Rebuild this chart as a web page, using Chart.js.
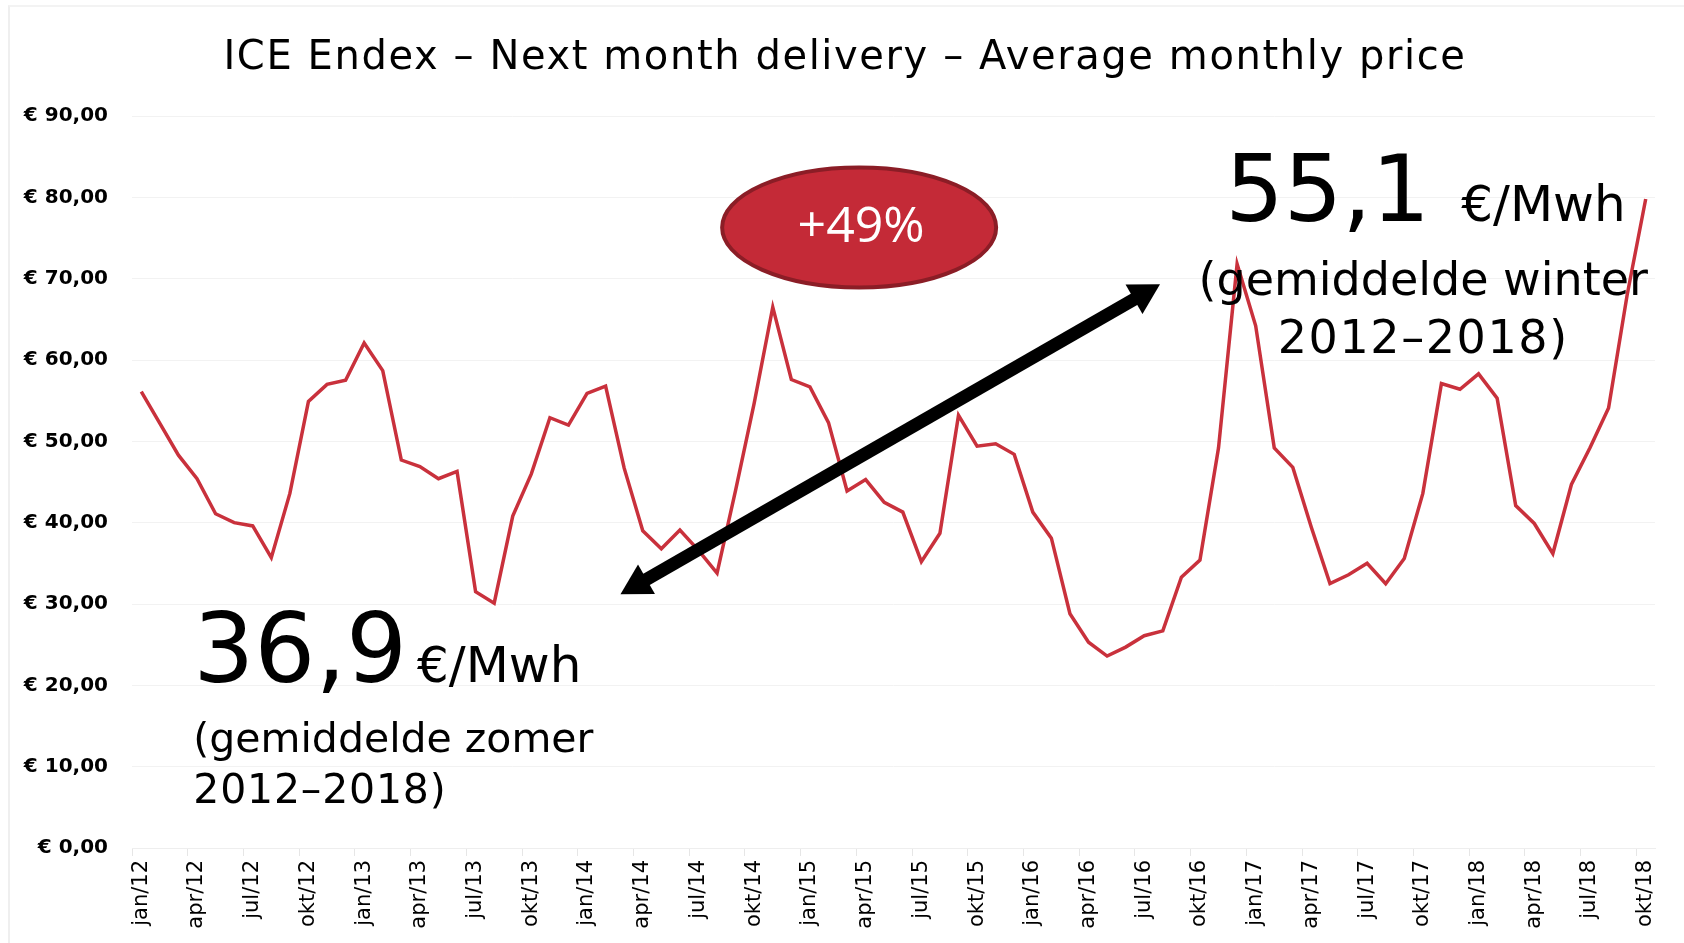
<!DOCTYPE html>
<html>
<head>
<meta charset="utf-8">
<script src="https://cdn.jsdelivr.net/npm/chart.js@4/dist/chart.umd.min.js"></script>
<style>
  html, body { margin: 0; padding: 0; background: #fff; }
  #wrap { position: relative; width: 1684px; height: 943px; }
  #frame { position: absolute; left: 8px; top: 5px; right: 0; bottom: 0;
           border-left: 2px solid #efefef; border-top: 2px solid #f3f3f3; }
  canvas { position: absolute; left: 0; top: 0; }
</style>
</head>
<body>
<div id="wrap">
  <div id="frame"></div>
  <canvas id="chart" width="1684" height="943"></canvas>
</div>
<script>
// maanden en jaren voor de categorie-as (jan/12 t/m okt/18)
const months = ["jan", "feb", "mrt", "apr", "mei", "jun", "jul", "aug", "sep", "okt", "nov", "dec"];
const years = ["12", "13", "14", "15", "16", "17", "18"];
const lastMonthCount = 10; // 2018 loopt tot okt

// gemiddelde maandprijs (EUR/MWh)
const prices = [
  56.1, 52.2, 48.3, 45.4, 41.1, 40.0, 39.6, 35.7, 43.6, 54.9, 57.0, 57.5,
  62.1, 58.7, 47.7, 46.9, 45.4, 46.3, 31.5, 30.1, 40.8, 46.0, 52.9, 52.0,
  55.9, 56.8, 46.7, 39.0, 36.8, 39.1, 36.6, 33.8, 44.0, 54.7, 66.5, 57.6,
  56.7, 52.3, 43.9, 45.3, 42.5, 41.3, 35.2, 38.7, 53.2, 49.4, 49.7, 48.4,
  41.3, 38.1, 28.8, 25.3, 23.6, 24.7, 26.1, 26.7, 33.3, 35.4, 49.2, 71.8,
  64.2, 49.2, 46.8, 39.4, 32.5, 33.6, 35.0, 32.5, 35.6, 43.6, 57.1, 56.4,
  58.3, 55.3, 42.1, 39.9, 36.2, 44.7, 49.2, 54.1, 68.0, 79.8
];

const yMin = 0;
const yMax = 90;
const yStep = 10;
const labelEvery = 3;

const labels = [];
years.forEach((yr, yi) => {
  const count = yi === years.length - 1 ? lastMonthCount : 12;
  for (let m = 0; m < count; m++) labels.push(months[m] + "/" + yr);
});

const titleText = "ICE Endex – Next month delivery – Average monthly price";

// annotaties (in data-coördinaten: x = maandindex, y = prijs)
const summerAvg = "36,9";
const winterAvg = "55,1";
const unitText = "€/Mwh";
const summerLines = ["(gemiddelde zomer", "2012–2018)"];
const winterLines = ["(gemiddelde winter", "2012–2018)"];
const changeText = "+49%";

const annotationPlugin = {
  id: "annotations",
  afterDatasetsDraw(chart) {
    const ctx = chart.ctx;
    const xs = chart.scales.x;
    const ys = chart.scales.y;
    const px = (v) => xs.getPixelForValue(v);
    const py = (v) => ys.getPixelForValue(v);

    ctx.save();

    // titel (met wat letterafstand, zoals in het origineel)
    ctx.fillStyle = "#000";
    ctx.font = "40px 'DejaVu Sans'";
    ctx.textAlign = "center";
    ctx.textBaseline = "alphabetic";
    ctx.letterSpacing = "1.6px";
    ctx.fillText(titleText, chart.width / 2 + 3, 69);
    ctx.letterSpacing = "0px";

    // dubbele pijl
    const x1 = px(25.8), y1 = py(31.2);
    const x2 = px(54.85), y2 = py(69.3);
    const ang = Math.atan2(y2 - y1, x2 - x1);
    const headLen = 30, headW = 17;
    ctx.strokeStyle = "#000";
    ctx.fillStyle = "#000";
    ctx.lineWidth = 13;
    ctx.beginPath();
    ctx.moveTo(x1 + Math.cos(ang) * headLen * 0.8, y1 + Math.sin(ang) * headLen * 0.8);
    ctx.lineTo(x2 - Math.cos(ang) * headLen * 0.8, y2 - Math.sin(ang) * headLen * 0.8);
    ctx.stroke();
    [[x2, y2, ang], [x1, y1, ang + Math.PI]].forEach(([hx, hy, a]) => {
      ctx.beginPath();
      ctx.moveTo(hx, hy);
      ctx.lineTo(hx - Math.cos(a) * headLen - Math.sin(a) * headW,
                 hy - Math.sin(a) * headLen + Math.cos(a) * headW);
      ctx.lineTo(hx - Math.cos(a) * headLen + Math.sin(a) * headW,
                 hy - Math.sin(a) * headLen - Math.cos(a) * headW);
      ctx.closePath();
      ctx.fill();
    });

    // rode ellips met percentage
    const ex = px(38.65), ey = py(76.3);
    ctx.beginPath();
    ctx.ellipse(ex, ey, 137, 60, 0, 0, Math.PI * 2);
    ctx.fillStyle = "#c42a37";
    ctx.fill();
    ctx.lineWidth = 4;
    ctx.strokeStyle = "#8b1d26";
    ctx.stroke();
    ctx.fillStyle = "#fff";
    ctx.font = "50px 'Open Sans'";
    ctx.textAlign = "center";
    ctx.textBaseline = "alphabetic";
    ctx.fillText(changeText, ex + 2, ey + 15);

    ctx.fillStyle = "#000";

    // zomer
    ctx.textAlign = "left";
    ctx.font = "96px 'DejaVu Sans'";
    const sx = px(2.8), sy = py(20.4);
    ctx.fillText(summerAvg, sx, sy);
    const sw = ctx.measureText(summerAvg).width;
    ctx.font = "50px 'DejaVu Sans'";
    ctx.fillText(unitText, sx + sw + 10, sy);
    ctx.font = "41px 'DejaVu Sans'";
    ctx.fillText(summerLines[0], sx, py(11.8));
    ctx.letterSpacing = "0.8px";
    ctx.fillText(summerLines[1], sx, py(5.5));
    ctx.letterSpacing = "0px";

    // winter
    ctx.font = "92px 'DejaVu Sans'";
    ctx.fillText(winterAvg, px(58.36), py(77.05));
    ctx.font = "50px 'DejaVu Sans'";
    ctx.fillText(unitText, px(71.07), py(77.05));
    ctx.textAlign = "center";
    ctx.font = "46px 'DejaVu Sans'";
    ctx.fillText(winterLines[0], px(69.02), py(67.96));
    ctx.letterSpacing = "1.6px";
    ctx.fillText(winterLines[1], px(69.02), py(60.83));
    ctx.letterSpacing = "0px";

    ctx.restore();
  },
};

const chart = new Chart(document.getElementById("chart"), {
  type: "line",
  data: {
    labels: labels,
    datasets: [
      {
        data: prices,
        borderColor: "#c9313c",
        borderWidth: 3.5,
        pointRadius: 0,
        tension: 0,
        fill: false,
      },
    ],
  },
  options: {
    responsive: false,
    animation: false,
    devicePixelRatio: 1,
    layout: { padding: { left: 0, right: 29, top: 116, bottom: 0 } },
    plugins: {
      legend: { display: false },
      tooltip: { enabled: false },
      title: { display: false },
    },
    scales: {
      x: {
        offset: true,
        afterFit: (scale) => { scale.height = 95; },
        grid: {
          offset: true,
          drawOnChartArea: false,
          drawTicks: true,
          tickLength: 8,
          color: (c) => (c.index % labelEvery === 0 ? "#e6e6e6" : "rgba(0,0,0,0)"),
        },
        border: { color: "#eeeeee" },
        ticks: {
          autoSkip: false,
          minRotation: 90,
          maxRotation: 90,
          padding: 4,
          color: "#000",
          font: { family: "'DejaVu Sans'", size: 21 },
          callback: (val, i) => (i % labelEvery === 0 ? labels[i] : ""),
        },
      },
      y: {
        min: yMin,
        max: yMax,
        afterFit: (scale) => { scale.width = 132; },
        grid: { color: "#f2f2f2", drawTicks: false },
        border: { display: false },
        ticks: {
          stepSize: yStep,
          padding: 24,
          color: "#000",
          font: { family: "'DejaVu Sans'", size: 20, weight: "bold" },
          callback: (v) => "€ " + v.toFixed(2).replace(".", ","),
        },
      },
    },
  },
  plugins: [annotationPlugin],
});
</script>
</body>
</html>
